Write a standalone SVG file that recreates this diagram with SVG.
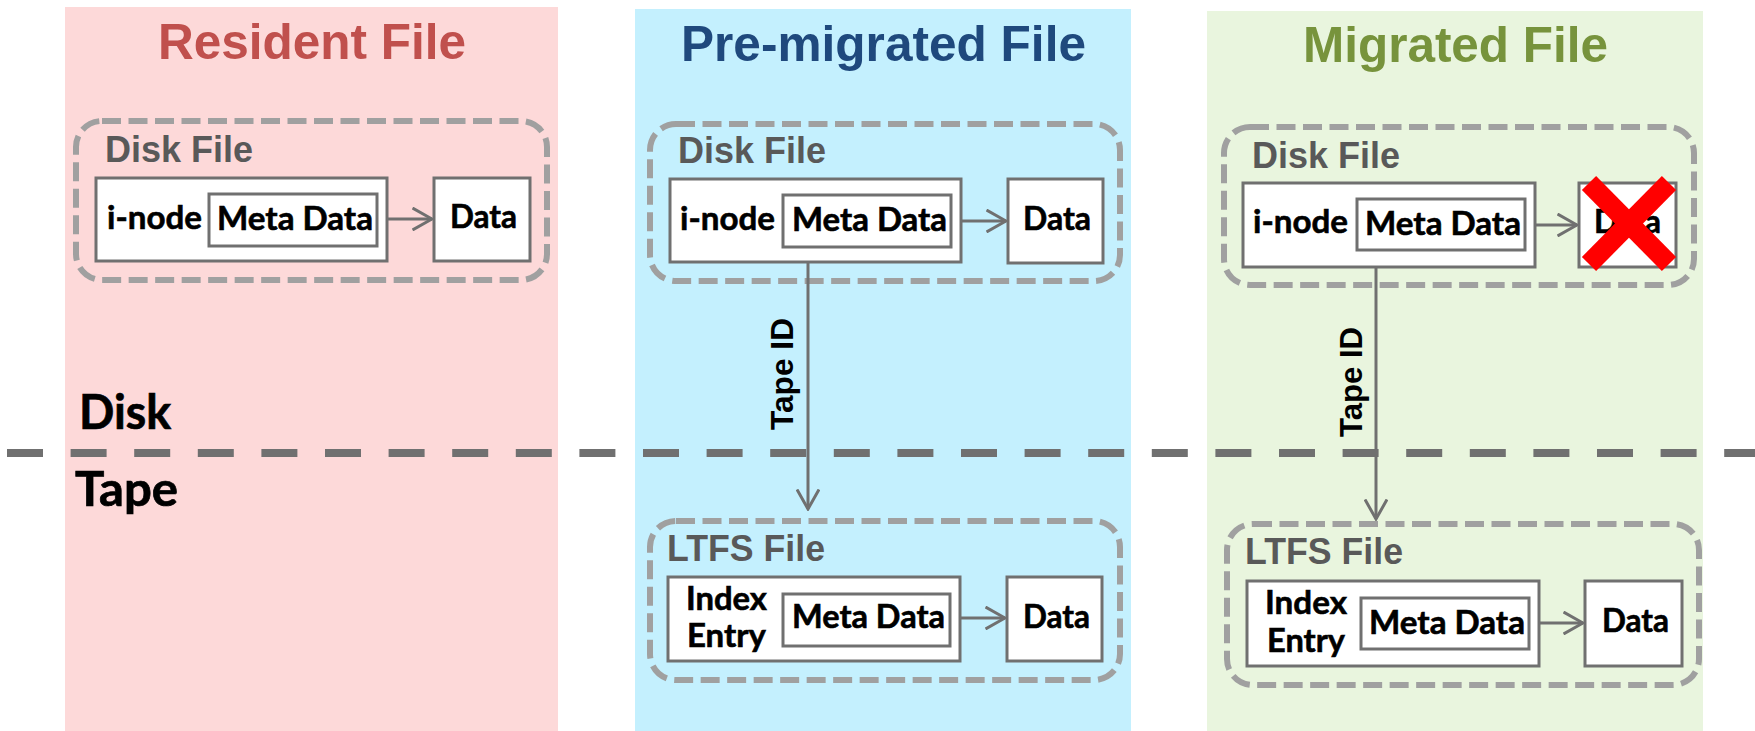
<svg xmlns="http://www.w3.org/2000/svg" width="1755" height="731" viewBox="0 0 1755 731">
  <defs>
    <style>
      .title { font-family: "Liberation Sans", Arial, sans-serif; font-weight: 700; font-size: 50px; text-anchor: middle; }
      .group-label { font-family: "Liberation Sans", Arial, sans-serif; font-weight: 700; font-size: 36px; fill: #595959; }
      .lbl { font-family: Lato, "Open Sans", sans-serif; font-weight: 700; font-size: 33px; fill: #000; stroke: #000; stroke-width: 0.6; }
      .side { font-family: Lato, "Open Sans", sans-serif; font-weight: 700; font-size: 47px; fill: #000; stroke: #000; stroke-width: 0.7; }
      .tapeid { font-family: "Liberation Sans", Arial, sans-serif; font-weight: 700; font-size: 32px; fill: #000; text-anchor: middle; }
      .container { fill: none; stroke: #A0A0A0; stroke-width: 6; stroke-dasharray: 19 7.5; }
      .box { fill: #FFFFFF; stroke: #707070; stroke-width: 3; }
      .link { fill: none; stroke: #707070; stroke-width: 3; marker-end: url(#chevron); }
      .cross { stroke: #FF0000; stroke-width: 20; stroke-linecap: butt; }
    </style>
    <marker id="chevron" viewBox="0 0 22 24" refX="20.5" refY="12" markerWidth="22" markerHeight="24" markerUnits="userSpaceOnUse" orient="auto">
      <path d="M1,1 L20.5,12 L1,23" fill="none" stroke="#707070" stroke-width="3"/>
    </marker>
  </defs>

  <!-- column backgrounds -->
  <g id="columns">
    <rect x="65" y="7" width="493" height="724" fill="#FDD9D9"/>
    <rect x="635" y="9" width="496" height="722" fill="#C4F0FE"/>
    <rect x="1207" y="11" width="496" height="720" fill="#E9F5DE"/>
  </g>

  <!-- column titles -->
  <g id="titles">
    <text class="title" x="312" y="59" fill="#C0504D" textLength="308" lengthAdjust="spacingAndGlyphs">Resident File</text>
    <text class="title" x="883.5" y="61" fill="#1F497D" textLength="405" lengthAdjust="spacingAndGlyphs">Pre-migrated File</text>
    <text class="title" x="1455.5" y="62" fill="#77933C" textLength="305" lengthAdjust="spacingAndGlyphs">Migrated File</text>
  </g>

  <!-- Disk / Tape boundary -->
  <g id="boundary">
    <line x1="7" y1="453" x2="1755" y2="453" stroke="#707070" stroke-width="8" stroke-dasharray="36 27.6"/>
    <text class="side" x="79" y="429" textLength="92" lengthAdjust="spacingAndGlyphs">Disk</text>
    <text class="side" x="75" y="506" textLength="103" lengthAdjust="spacingAndGlyphs">Tape</text>
  </g>

  <!-- Resident file: disk file -->
  <g id="resident-disk-file">
    <rect class="container" x="76" y="121" width="471" height="159" rx="26"/>
    <text class="group-label" x="105" y="162">Disk File</text>
    <g id="resident-inode">
      <rect class="box" x="96" y="178" width="291" height="83"/>
      <text class="lbl" x="107" y="229" textLength="95" lengthAdjust="spacingAndGlyphs">i-node</text>
    </g>
    <g id="resident-meta">
      <rect class="box" x="209" y="194" width="168" height="52"/>
      <text class="lbl" x="217" y="230" textLength="156" lengthAdjust="spacingAndGlyphs">Meta Data</text>
    </g>
    <g id="resident-data">
      <rect class="box" x="434" y="178" width="96" height="83"/>
      <text class="lbl" x="450" y="228" textLength="67" lengthAdjust="spacingAndGlyphs">Data</text>
    </g>
  </g>

  <!-- Pre-migrated file: disk file -->
  <g id="premigrated-disk-file">
    <rect class="container" x="650" y="124" width="470" height="157" rx="26"/>
    <text class="group-label" x="678" y="163">Disk File</text>
    <g id="premigrated-inode">
      <rect class="box" x="670" y="179" width="291" height="83"/>
      <text class="lbl" x="680" y="230" textLength="95" lengthAdjust="spacingAndGlyphs">i-node</text>
    </g>
    <g id="premigrated-meta">
      <rect class="box" x="783" y="195" width="168" height="52"/>
      <text class="lbl" x="792" y="231" textLength="155" lengthAdjust="spacingAndGlyphs">Meta Data</text>
    </g>
    <g id="premigrated-data">
      <rect class="box" x="1008" y="179" width="95" height="84"/>
      <text class="lbl" x="1023" y="230" textLength="68" lengthAdjust="spacingAndGlyphs">Data</text>
    </g>
  </g>

  <!-- Pre-migrated file: LTFS file -->
  <g id="premigrated-ltfs-file">
    <rect class="container" x="650" y="521" width="470" height="159" rx="26"/>
    <text class="group-label" x="667" y="561" textLength="158" lengthAdjust="spacingAndGlyphs">LTFS File</text>
    <g id="premigrated-index">
      <rect class="box" x="668" y="577" width="292" height="84"/>
      <text class="lbl" x="686" y="610" textLength="81" lengthAdjust="spacingAndGlyphs">Index</text>
      <text class="lbl" x="687" y="647" textLength="79" lengthAdjust="spacingAndGlyphs">Entry</text>
    </g>
    <g id="premigrated-ltfs-meta">
      <rect class="box" x="783" y="594" width="167" height="52"/>
      <text class="lbl" x="792" y="628" textLength="153" lengthAdjust="spacingAndGlyphs">Meta Data</text>
    </g>
    <g id="premigrated-ltfs-data">
      <rect class="box" x="1007" y="577" width="95" height="84"/>
      <text class="lbl" x="1023" y="628" textLength="67" lengthAdjust="spacingAndGlyphs">Data</text>
    </g>
  </g>

  <!-- Migrated file: disk file (data released) -->
  <g id="migrated-disk-file">
    <rect class="container" x="1224" y="127" width="470" height="158" rx="26"/>
    <text class="group-label" x="1252" y="168">Disk File</text>
    <g id="migrated-inode">
      <rect class="box" x="1243" y="183" width="292" height="84"/>
      <text class="lbl" x="1253" y="233" textLength="95" lengthAdjust="spacingAndGlyphs">i-node</text>
    </g>
    <g id="migrated-meta">
      <rect class="box" x="1357" y="199" width="168" height="51"/>
      <text class="lbl" x="1365" y="235" textLength="156" lengthAdjust="spacingAndGlyphs">Meta Data</text>
    </g>
    <g id="migrated-data">
      <rect class="box" x="1579" y="183" width="97" height="84"/>
      <text class="lbl" x="1594" y="233" textLength="67" lengthAdjust="spacingAndGlyphs">Data</text>
      <line class="cross" x1="1589" y1="183" x2="1669" y2="264"/>
      <line class="cross" x1="1669" y1="183" x2="1589" y2="264"/>
    </g>
  </g>

  <!-- Migrated file: LTFS file -->
  <g id="migrated-ltfs-file">
    <rect class="container" x="1227" y="524" width="472" height="161" rx="26"/>
    <text class="group-label" x="1245" y="564" textLength="158" lengthAdjust="spacingAndGlyphs">LTFS File</text>
    <g id="migrated-index">
      <rect class="box" x="1247" y="581" width="292" height="85"/>
      <text class="lbl" x="1265" y="614" textLength="82" lengthAdjust="spacingAndGlyphs">Index</text>
      <text class="lbl" x="1267" y="652" textLength="78" lengthAdjust="spacingAndGlyphs">Entry</text>
    </g>
    <g id="migrated-ltfs-meta">
      <rect class="box" x="1361" y="598" width="168" height="51"/>
      <text class="lbl" x="1369" y="634" textLength="156" lengthAdjust="spacingAndGlyphs">Meta Data</text>
    </g>
    <g id="migrated-ltfs-data">
      <rect class="box" x="1585" y="581" width="97" height="85"/>
      <text class="lbl" x="1602" y="632" textLength="67" lengthAdjust="spacingAndGlyphs">Data</text>
    </g>
  </g>

  <!-- connectors -->
  <g id="connectors">
    <line class="link" x1="387" y1="219" x2="432" y2="219"/>
    <line class="link" x1="961" y1="221" x2="1006" y2="221"/>
    <line class="link" x1="960" y1="618" x2="1005" y2="618"/>
    <line class="link" x1="1535" y1="225" x2="1577" y2="225"/>
    <line class="link" x1="1539" y1="623" x2="1583" y2="623"/>
    <line class="link" x1="808" y1="262" x2="808" y2="509"/>
    <line class="link" x1="1376" y1="267" x2="1376" y2="519"/>
    <text class="tapeid" x="793" y="374" transform="rotate(-90 793 374)" textLength="112" lengthAdjust="spacingAndGlyphs">Tape ID</text>
    <text class="tapeid" x="1362" y="382" transform="rotate(-90 1362 382)" textLength="110" lengthAdjust="spacingAndGlyphs">Tape ID</text>
  </g>
</svg>
